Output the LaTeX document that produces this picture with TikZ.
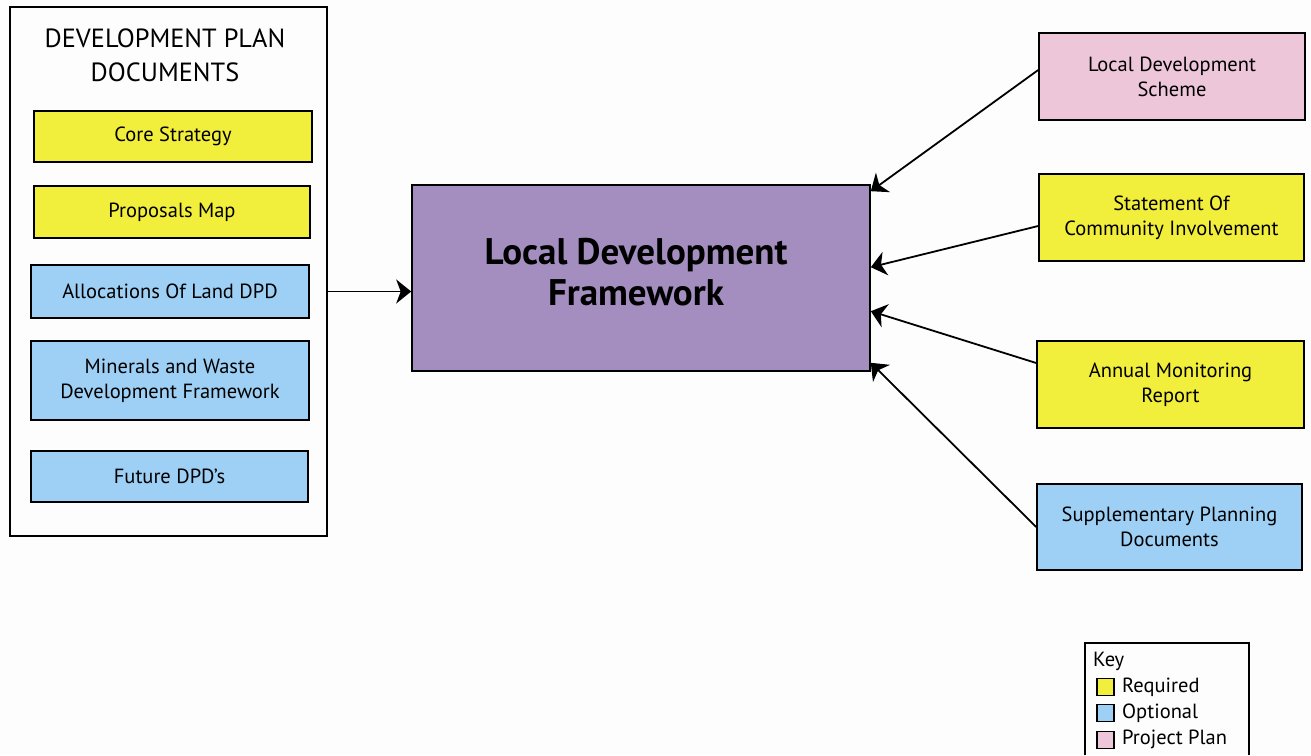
\documentclass[tikz,border=0pt]{standalone}
\usepackage{fontspec}
\setmainfont{PT Sans}
\usetikzlibrary{arrows.meta}
\definecolor{req}{HTML}{F2EE3C}
\definecolor{opt}{HTML}{9ED0F5}
\definecolor{proj}{HTML}{EEC6DA}
\definecolor{ldfc}{HTML}{A38EBF}
\definecolor{bg}{HTML}{FDFDFD}
\tikzset{
  box/.style={draw=black, line width=1.6pt, inner sep=0pt, align=center, font=\fontsize{20.5}{25}\selectfont},
  reqbox/.style={box, fill=req},
  optbox/.style={box, fill=opt},
  projbox/.style={box, fill=proj},
  conn/.style={line width=1.8pt, -{Stealth[length=15pt,width=24pt,inset=4.5pt]}},
  keysq/.style={draw=black, line width=1.4pt, minimum width=17pt, minimum height=17pt, inner sep=0pt},
  keytxt/.style={anchor=west, inner sep=0pt, font=\fontsize{20.5}{22}\selectfont}
}
\begin{document}
\begin{tikzpicture}[x=1pt,y=-1pt]
\fill[bg] (0,0) rectangle (1311,755);
\useasboundingbox (0,0) rectangle (1311,755);
% left container
\node[draw=black, line width=1.6pt, minimum width=317pt, minimum height=529pt, inner sep=0pt] (dpd) at (168.5,271.5) {};
\node[align=center, font=\fontsize{26.3}{34}\selectfont, inner sep=0pt] (title) at (165,55) {DEVELOPMENT PLAN\\DOCUMENTS};
\node[reqbox, minimum width=278pt, minimum height=51pt] (core) at (173,136.5) {Core Strategy};
\node[reqbox, minimum width=276pt, minimum height=52pt] (prop) at (172,212) {Proposals Map};
\node[optbox, minimum width=278pt, minimum height=53pt] (alloc) at (170,291.5) {Allocations Of Land DPD};
\node[optbox, minimum width=278pt, minimum height=79pt] (min) at (170,380.5) {Minerals and Waste\\Development Framework};
\node[optbox, minimum width=277pt, minimum height=51pt] (fut) at (169.5,476.5) {Future DPD’s};
% central
\node[draw=black, line width=1.6pt, fill=ldfc, minimum width=458pt, minimum height=186pt, inner sep=0pt] (ldf) at (641,278) {};
\node[align=center, inner sep=0pt, font=\fontsize{37}{41}\bfseries\selectfont] (ldft) at (636,272) {Local Development\\Framework};
% right
\node[projbox, minimum width=266pt, minimum height=87pt] (lds) at (1172,76.5) {Local Development\\Scheme};
\node[reqbox, minimum width=265pt, minimum height=87pt] (sci) at (1171.5,217.5) {Statement Of\\Community Involvement};
\node[reqbox, minimum width=267pt, minimum height=87pt] (amr) at (1170.5,384.5) {Annual Monitoring\\Report};
\node[optbox, minimum width=265pt, minimum height=86pt] (spd) at (1169.5,527) {Supplementary Planning\\Documents};
% connectors
\draw[conn] (dpd.east |- alloc) -- (ldf.west |- alloc);
\draw[conn] ([yshift=6.5pt]lds.west) -- ([yshift=-7pt]ldf.north east);
\draw[conn] ([yshift=-8.5pt]sci.west) -- ([yshift=-83pt]ldf.north east);
\draw[conn] ([yshift=21.5pt]amr.west) -- ([yshift=-127pt]ldf.north east);
\draw[conn] (spd.west) -- ([yshift=9pt]ldf.south east);
% key
\draw[line width=1.4pt] (1085,755) -- (1085,643) -- (1249,643) -- (1249,755);
\node[keytxt] (keyt) at (1093,661) {Key};
\node[keysq, fill=req] (k1) at (1105.5,687) {};
\node[keytxt] (k1t) at (1122,687) {Required};
\node[keysq, fill=opt] (k2) at (1105.5,713) {};
\node[keytxt] (k2t) at (1122,713) {Optional};
\node[keysq, fill=proj] (k3) at (1105.5,740) {};
\node[keytxt] (k3t) at (1122,739) {Project Plan};
\end{tikzpicture}
\end{document}
